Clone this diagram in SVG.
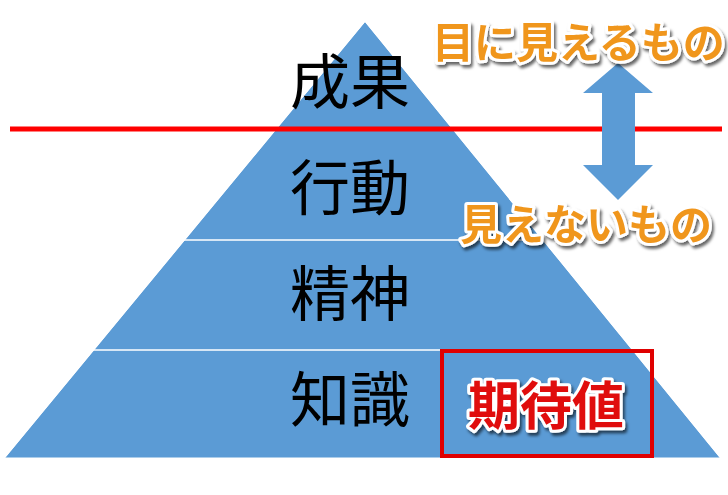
<svg xmlns="http://www.w3.org/2000/svg" width="728" height="495" viewBox="0 0 728 495">
<style>
.lv{font-family:"Noto Sans CJK JP",sans-serif;font-size:60px;fill:#000}
.or{font-family:"Noto Sans CJK JP",sans-serif;font-weight:bold;font-size:42px;fill:#f0961e;stroke:#fff;stroke-width:6;paint-order:stroke;stroke-linejoin:round}
.rd{font-family:"Noto Sans CJK JP",sans-serif;font-weight:bold;font-size:52px;fill:#e01010;stroke:#fff;stroke-width:6;paint-order:stroke;stroke-linejoin:round}
</style>
<defs><filter id="sh"><feDropShadow dx="2" dy="3" stdDeviation="1.5" flood-color="#000" flood-opacity="0.6"/></filter></defs>
<rect width="728" height="495" fill="#fff"/>
<g id="pyramid">
<polygon points="365,22 720,458 5,458" fill="#5b9bd5"/>
<line x1="0" y1="240" x2="728" y2="240" stroke="#fff" stroke-width="1.5"/>
<line x1="0" y1="350" x2="728" y2="350" stroke="#fff" stroke-width="1.5"/>
<polygon points="0,0 365,22 5,458 0,495" fill="#fff"/>
<polygon points="728,0 365,22 720,458 728,495" fill="#fff"/>
<rect x="0" y="0" width="728" height="22" fill="#fff"/>
<rect x="0" y="458" width="728" height="37" fill="#fff"/>
<line x1="5" y1="458" x2="720" y2="458" stroke="#fff"/>
</g>
<g id="levels">
<text class="lv" x="290" y="104">成果</text>
<text class="lv" x="290" y="210">行動</text>
<text class="lv" x="290" y="316">精神</text>
<text class="lv" x="290" y="422">知識</text>
</g>
<g id="connectors">
<line x1="10" y1="129" x2="722" y2="129" stroke="#ff0000" stroke-width="5"/>
<polygon points="618,63 653,93 635,93 635,165 653,165 618,200 583,165 602,165 602,93 583,93" fill="#5b9bd5"/>
</g>
<g id="labels" filter="url(#sh)">
<text class="or" x="432" y="58">目に見えるもの</text>
<text class="or" x="460" y="240">見えないもの</text>
</g>
<g id="expect">
<rect x="442" y="351" width="210" height="105" fill="none" stroke="#e00000" stroke-width="4"/>
<text class="rd" x="468" y="425" filter="url(#sh)">期待値</text>
</g>
</svg>
